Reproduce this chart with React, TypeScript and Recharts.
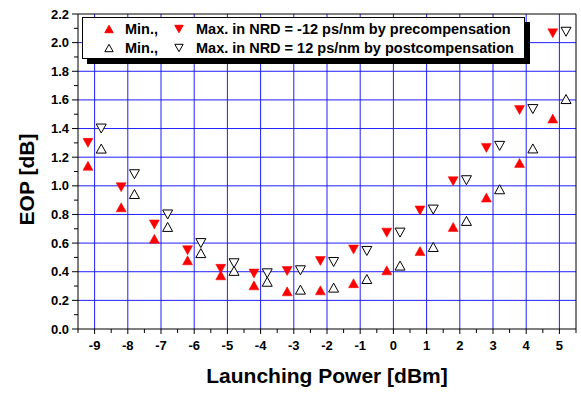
import React from 'react';
import { ScatterChart, Scatter, XAxis, YAxis, ReferenceLine, Legend, Label } from 'recharts';

// Launching power (dBm) for each compensation scheme
const preX = [-9.2, -8.2, -7.2, -6.2, -5.2, -4.2, -3.2, -2.2, -1.2, -0.2, 0.8, 1.8, 2.8, 3.8, 4.8];
const postX = [-8.8, -7.8, -6.8, -5.8, -4.8, -3.8, -2.8, -1.8, -0.8, 0.2, 1.2, 2.2, 3.2, 4.2, 5.2];

// EOP (dB), min and max over the NRD window
const preMin = [1.14, 0.85, 0.63, 0.48, 0.375, 0.305, 0.263, 0.27, 0.32, 0.41, 0.545, 0.713, 0.918, 1.16, 1.47];
const preMax = [1.3, 0.99, 0.73, 0.55, 0.42, 0.387, 0.405, 0.475, 0.555, 0.673, 0.828, 1.032, 1.265, 1.529, 2.065];
const postMin = [1.26, 0.943, 0.713, 0.53, 0.406, 0.33, 0.275, 0.289, 0.349, 0.443, 0.573, 0.755, 0.976, 1.261, 1.606];
const postMax = [1.4, 1.081, 0.8, 0.6, 0.459, 0.389, 0.41, 0.468, 0.545, 0.673, 0.834, 1.039, 1.279, 1.536, 2.076];

const xTicks = [-9.5, -9, -8.5, -8, -7.5, -7, -6.5, -6, -5.5, -5, -4.5, -4, -3.5, -3, -2.5, -2, -1.5, -1, -0.5, 0, 0.5, 1, 1.5, 2, 2.5, 3, 3.5, 4, 4.5, 5, 5.5];
const xGrid = [-9, -8, -7, -6, -5, -4, -3, -2, -1, 0, 1, 2, 3, 4, 5];
const yTicks = [0, 0.1, 0.2, 0.3, 0.4, 0.5, 0.6, 0.7, 0.8, 0.9, 1.0, 1.1, 1.2, 1.3, 1.4, 1.5, 1.6, 1.7, 1.8, 1.9, 2.0, 2.1, 2.2];
const yGrid = [0.2, 0.4, 0.6, 0.8, 1.0, 1.2, 1.4, 1.6, 1.8, 2.0];

const legendRows = [
  { filled: true, min: 'Min.,', max: 'Max. in NRD = -12 ps/nm by precompensation' },
  { filled: false, min: 'Min.,', max: 'Max. in NRD = 12 ps/nm by postcompensation' },
];

const FONT = "'Liberation Sans', Arial, Helvetica, sans-serif";
const GRID = '#1f1fff';

const pre = preX.map((x, i) => ({ x, min: preMin[i], max: preMax[i] }));
const post = postX.map((x, i) => ({ x, min: postMin[i], max: postMax[i] }));

const triPoints = (cx: number, cy: number, down: boolean, w = 5, h = 4.5) =>
  down
    ? `${cx - w},${cy - h} ${cx + w},${cy - h} ${cx},${cy + h}`
    : `${cx - w},${cy + h} ${cx + w},${cy + h} ${cx},${cy - h}`;

const makeTri = (down: boolean, filled: boolean) => (props: any) => {
  const { cx, cy } = props;
  if (cx == null || cy == null) return <g />;
  return (
    <polygon
      points={triPoints(cx, cy, down)}
      fill={filled ? '#ff0000' : '#ffffff'}
      stroke={filled ? '#ff0000' : '#000000'}
      strokeWidth={filled ? 0.5 : 1}
    />
  );
};

const isMajorX = (v: number) => Number.isInteger(v);
const isMajorY = (v: number) => Math.abs(Math.round(v * 5) - v * 5) < 1e-6;

const BottomTick = ({ x, y, payload }: any) => {
  const major = isMajorX(payload.value);
  return (
    <g>
      <line x1={x} x2={x} y1={y} y2={y + (major ? 5 : 4)} stroke="#000" />
      {major && (
        <text x={x} y={y + 21} textAnchor="middle" fontFamily={FONT} fontSize={13} fontWeight="bold" fill="#000">
          {payload.value}
        </text>
      )}
    </g>
  );
};

const TopTick = ({ x, y }: any) => <line x1={x} x2={x} y1={y} y2={y + 5} stroke="#000" />;

const LeftTick = ({ x, y, payload }: any) => {
  const major = isMajorY(payload.value);
  return (
    <g>
      <line x1={x} x2={x - (major ? 6 : 4)} y1={y} y2={y} stroke="#000" />
      {major && (
        <text x={x - 9} y={y + 4.5} textAnchor="end" fontFamily={FONT} fontSize={13} fontWeight="bold" fill="#000">
          {payload.value.toFixed(1)}
        </text>
      )}
    </g>
  );
};

const RightTick = ({ x, y }: any) => <line x1={x} x2={x - 4} y1={y} y2={y} stroke="#000" />;

const LegendSymbol = ({ left, top, down, filled }: any) => (
  <svg width={12} height={12} style={{ position: 'absolute', left, top: top - 6 }}>
    <polygon
      points={triPoints(6, 6, down, 4.2, 3.7)}
      fill={filled ? '#ff0000' : '#fff'}
      stroke={filled ? '#ff0000' : '#000'}
    />
  </svg>
);

const LegendBox = () => (
  <div
    style={{
      position: 'relative',
      width: 441,
      height: 40,
      border: '1px solid #000',
      background: '#fff',
      boxShadow: '5px 5px 0 #000',
      fontFamily: FONT,
      fontSize: 14.5,
      fontWeight: 'bold',
      color: '#000',
    }}
  >
    {legendRows.map((r, i) => {
      const mid = i === 0 ? 11 : 29.5;
      return (
        <React.Fragment key={i}>
          <LegendSymbol left={20} top={mid} down={false} filled={r.filled} />
          <span style={{ position: 'absolute', left: 42, top: mid - 9, lineHeight: '18px' }}>{r.min}</span>
          <LegendSymbol left={90} top={mid} down filled={r.filled} />
          <span style={{ position: 'absolute', left: 113, top: mid - 9, lineHeight: '18px', whiteSpace: 'nowrap' }}>
            {r.max}
          </span>
        </React.Fragment>
      );
    })}
  </div>
);

const YTitle = ({ viewBox }: any) => {
  const cx = viewBox.x + 26;
  const cy = viewBox.y + viewBox.height / 2 + 8;
  return (
    <text
      x={cx}
      y={cy}
      transform={`rotate(-90 ${cx} ${cy})`}
      textAnchor="middle"
      dominantBaseline="central"
      fontFamily={FONT}
      fontSize={21}
      fontWeight="bold"
      fill="#000"
    >
      EOP [dB]
    </text>
  );
};

export default function App() {
  return (
    <div style={{ position: 'absolute', left: 0, top: 0, width: 581, height: 393, background: '#fff' }}>
      <ScatterChart width={581} height={393} margin={{ top: 0, right: 0, bottom: 0, left: 0 }}>
        <XAxis
          xAxisId={0}
          type="number"
          dataKey="x"
          domain={[-9.5, 5.5]}
          ticks={xTicks}
          interval={0}
          height={64}
          tickSize={0}
          tickMargin={0}
          tickLine={false}
          tick={<BottomTick />}
          axisLine={{ stroke: '#000' }}
        >
          <Label
            value="Launching Power [dBm]"
            position="insideBottom"
            offset={10}
            style={{ fontFamily: FONT, fontSize: 21, fontWeight: 'bold', fill: '#000' }}
          />
        </XAxis>
        <XAxis
          xAxisId="t"
          orientation="top"
          type="number"
          domain={[-9.5, 5.5]}
          ticks={xTicks}
          interval={0}
          height={14}
          tickSize={0}
          tickMargin={0}
          tickLine={false}
          tick={<TopTick />}
          axisLine={{ stroke: '#000' }}
        />
        <YAxis
          yAxisId={0}
          type="number"
          dataKey="min"
          domain={[0, 2.2]}
          ticks={yTicks}
          interval={0}
          width={78}
          tickSize={0}
          tickMargin={0}
          tickLine={false}
          tick={<LeftTick />}
          axisLine={{ stroke: '#000' }}
          label={{ content: <YTitle /> }}
        />
        <YAxis
          yAxisId="r"
          orientation="right"
          type="number"
          domain={[0, 2.2]}
          ticks={yTicks}
          interval={0}
          width={5}
          tickSize={0}
          tickMargin={0}
          tickLine={false}
          tick={<RightTick />}
          axisLine={{ stroke: '#000' }}
        />
        {xGrid.map((v) => (
          <ReferenceLine key={`gx${v}`} x={v} stroke={GRID} strokeWidth={1} />
        ))}
        {yGrid.map((v) => (
          <ReferenceLine key={`gy${v}`} y={v} stroke={GRID} strokeWidth={1} />
        ))}
        <Scatter name="pre min" data={pre} dataKey="min" shape={makeTri(false, true)} isAnimationActive={false} />
        <Scatter
          name="pre max"
          data={pre.map((d) => ({ x: d.x, min: d.max }))}
          dataKey="min"
          shape={makeTri(true, true)}
          isAnimationActive={false}
        />
        <Scatter name="post min" data={post} dataKey="min" shape={makeTri(false, false)} isAnimationActive={false} />
        <Scatter
          name="post max"
          data={post.map((d) => ({ x: d.x, min: d.max }))}
          dataKey="min"
          shape={makeTri(true, false)}
          isAnimationActive={false}
        />
        <Legend
          layout="vertical"
          verticalAlign="middle"
          align="center"
          content={<LegendBox />}
          wrapperStyle={{ position: 'absolute', left: 82, top: 17, width: 443, height: 42 }}
        />
      </ScatterChart>
    </div>
  );
}
